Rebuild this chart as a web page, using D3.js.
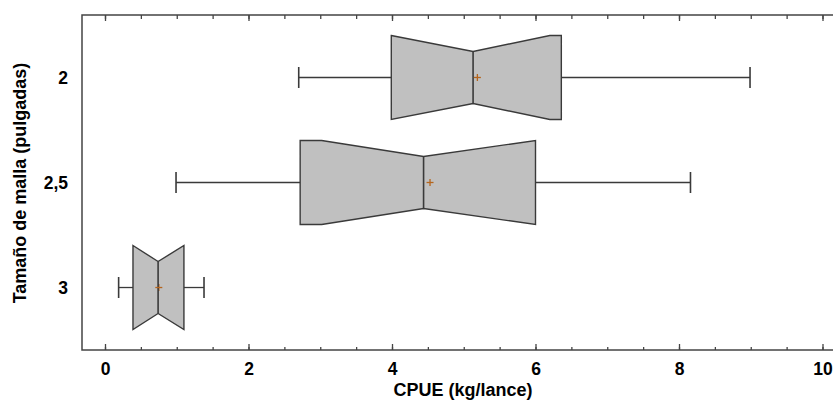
<!DOCTYPE html>
<html><head><meta charset="utf-8">
<script src="https://cdn.jsdelivr.net/npm/d3@7"></script>
<style>body{margin:0;background:#fff;}svg{display:block;}text{font-family:Arial,"Liberation Sans",sans-serif;font-weight:bold;fill:#000;}</style>
</head><body>
<script>
const categories = ["2", "2,5", "3"];
const whiskerLo = [2.70, 0.99, 0.19];
const q1 = [3.99, 2.72, 0.39];
const median = [5.13, 4.44, 0.74];
const q3 = [6.36, 6.00, 1.10];
const whiskerHi = [8.99, 8.16, 1.38];
const means = [5.19, 4.53, 0.75];
const notchLo = [3.99, 3.02, 0.39];
const notchHi = [6.20, 6.00, 1.10];
const xMajorTicks = [0, 2, 4, 6, 8, 10];
const xMinorTicks = d3.range(0, 10.01, 0.5);
const xTitle = "CPUE (kg/lance)";
const yTitle = "Tamaño de malla (pulgadas)";

const W = 833, H = 402;
const frame = {left: 82, top: 15, right: 845, bottom: 350};
const svg = d3.select("body").append("svg").attr("width", W).attr("height", H);

const x = d3.scaleLinear().domain([0, 10]).range([105, 822.5]);
const y = d3.scalePoint().domain(categories).range([frame.top, frame.bottom]).padding(0.595);

const stroke = "#3a3a3a";

// frame
svg.append("rect").attr("x", frame.left).attr("y", frame.top)
  .attr("width", frame.right - frame.left).attr("height", frame.bottom - frame.top)
  .attr("fill", "none").attr("stroke", "#444").attr("stroke-width", 1.5);

// bottom axis
const gb = svg.append("g").attr("transform", `translate(0,${frame.bottom})`);
gb.call(d3.axisBottom(x).tickValues(xMinorTicks).tickSize(-3).tickFormat(""));
gb.call(g => g.select(".domain").remove());
const gbMaj = svg.append("g").attr("transform", `translate(0,${frame.bottom})`)
  .call(d3.axisBottom(x).tickValues(xMajorTicks).tickSize(-6).tickPadding(13).tickFormat(d3.format("d")));
gbMaj.select(".domain").remove();
gbMaj.selectAll("text").attr("font-size", 17.5).attr("fill", "#000").attr("font-weight", "bold")
  .attr("font-family", "Arial, 'Liberation Sans', sans-serif");

// top axis
const gt = svg.append("g").attr("transform", `translate(0,${frame.top})`);
gt.call(d3.axisTop(x).tickValues(xMinorTicks).tickSize(-4).tickFormat(""));
gt.select(".domain").remove();
const gtMaj = svg.append("g").attr("transform", `translate(0,${frame.top})`)
  .call(d3.axisTop(x).tickValues(xMajorTicks).tickSize(-6).tickFormat(""));
gtMaj.select(".domain").remove();
svg.selectAll("g.tick line").attr("stroke", "#444").attr("stroke-width", 1.3);

// left axis labels
const gl = svg.append("g").attr("transform", `translate(${frame.left},0)`)
  .call(d3.axisLeft(y).tickSize(0).tickPadding(14));
gl.select(".domain").remove();
gl.selectAll("text").attr("font-size", 17.5).attr("fill", "#000").attr("font-weight", "bold")
  .attr("font-family", "Arial, 'Liberation Sans', sans-serif");

// titles
svg.append("text").attr("x", 463).attr("y", 396).attr("text-anchor", "middle")
  .attr("font-size", 18).text(xTitle);
svg.append("text").attr("transform", "translate(26,183) rotate(-90)").attr("text-anchor", "middle")
  .attr("font-size", 18).text(yTitle);

// boxes
const boxHalf = 42, notchHalf = 26, capHalf = 10.5;
const meanColor = "#b5651d";
categories.forEach((c, i) => {
  const cy = y(c);
  const g = svg.append("g");
  // whiskers
  g.append("line").attr("x1", x(whiskerLo[i])).attr("x2", x(q1[i])).attr("y1", cy).attr("y2", cy)
    .attr("stroke", stroke).attr("stroke-width", 1.3);
  g.append("line").attr("x1", x(q3[i])).attr("x2", x(whiskerHi[i])).attr("y1", cy).attr("y2", cy)
    .attr("stroke", stroke).attr("stroke-width", 1.3);
  [whiskerLo[i], whiskerHi[i]].forEach(v => {
    g.append("line").attr("x1", x(v)).attr("x2", x(v)).attr("y1", cy - capHalf).attr("y2", cy + capHalf)
      .attr("stroke", stroke).attr("stroke-width", 1.6);
  });
  // notched box
  const pts = [
    [x(q1[i]), cy - boxHalf], [x(notchLo[i]), cy - boxHalf], [x(median[i]), cy - notchHalf],
    [x(notchHi[i]), cy - boxHalf], [x(q3[i]), cy - boxHalf],
    [x(q3[i]), cy + boxHalf], [x(notchHi[i]), cy + boxHalf], [x(median[i]), cy + notchHalf],
    [x(notchLo[i]), cy + boxHalf], [x(q1[i]), cy + boxHalf]
  ];
  g.append("path").attr("d", d3.line()(pts) + "Z")
    .attr("fill", "#c0c0c0").attr("stroke", stroke).attr("stroke-width", 1.4).attr("stroke-linejoin", "miter");
  const mx = x(means[i]);
  // mean vertical stroke (under median)
  g.append("line").attr("x1", mx).attr("x2", mx).attr("y1", cy - 3.5).attr("y2", cy + 3.5)
    .attr("stroke", meanColor).attr("stroke-width", 1.3);
  // median
  g.append("line").attr("x1", x(median[i])).attr("x2", x(median[i]))
    .attr("y1", cy - notchHalf).attr("y2", cy + notchHalf).attr("stroke", stroke).attr("stroke-width", 1.6);
  // mean horizontal stroke
  g.append("line").attr("x1", mx - 3.5).attr("x2", mx + 3.5).attr("y1", cy).attr("y2", cy)
    .attr("stroke", meanColor).attr("stroke-width", 1.3);
});
</script>
</body></html>
